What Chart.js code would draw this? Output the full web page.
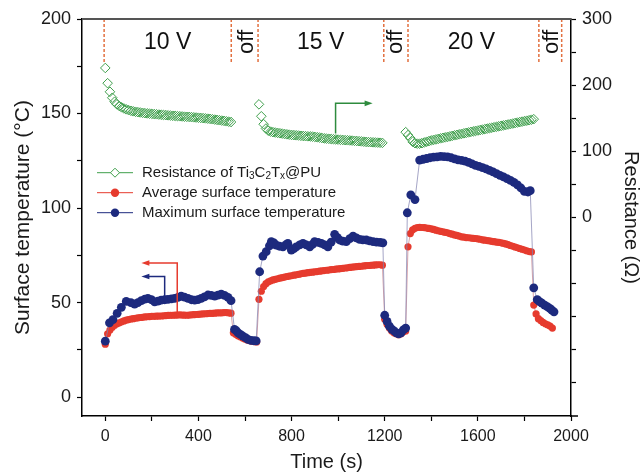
<!DOCTYPE html>
<html>
<head>
<meta charset="utf-8">
<script src="https://cdn.jsdelivr.net/npm/chart.js@4.4.0/dist/chart.umd.min.js"></script>
<style>
  html, body { margin: 0; padding: 0; background: #fff; }
  #wrap { width: 643px; height: 476px; }
</style>
</head>
<body>
<div id="wrap"><canvas id="chart" width="643" height="476"></canvas></div>
<script>
// resistance of Ti3C2Tx@PU (right axis, ohm)
const resTime = [
  0,10,20,30,40,50,60,70,80,90,100,110,120,130,140,150,160,170,180,190,200,210,220,230,240,250,
  260,270,280,290,300,310,320,330,340,350,360,370,380,390,400,410,420,430,440,450,460,470,480,490,
  500,510,520,530,540,
  660,670,680,690,700,710,720,730,740,750,760,770,780,790,800,810,820,830,840,850,860,870,880,890,
  900,910,920,930,940,950,960,970,980,990,1000,1010,1020,1030,1040,1050,1060,1070,1080,1090,1100,
  1110,1120,1130,1140,1150,1160,1170,1180,1190,
  1290,1300,1310,1320,1330,1340,1350,1360,1370,1380,1390,1400,1410,1420,1430,1440,1450,1460,1470,
  1480,1490,1500,1510,1520,1530,1540,1550,1560,1570,1580,1590,1600,1610,1620,1630,1640,1650,1660,
  1670,1680,1690,1700,1710,1720,1730,1740,1750,1760,1770,1780,1790,1800,1810,1820,1830,1840
];
const resValues = [
  226,203,190,181,175,171,168.5,166.5,164.8,163.5,162.3,161.3,160.5,159.8,159.2,158.7,158.2,157.7,
  157.3,156.9,156.6,156.3,156,155.6,155.3,155,154.7,154.4,154.1,153.8,153.5,153.2,153,152.7,152.4,
  152.2,152,151.7,151.4,151.1,150.8,150.5,150.2,149.8,149.4,149,148.5,148,147.5,147,146.5,146,145.4,
  144.8,144.3,
  171,153,141,134.5,131.2,129.8,129,128.4,127.9,127.3,126.8,126.2,125.7,125.2,124.8,124.5,124.2,
  123.9,123.5,123.2,122.9,122.7,122.5,122.2,121.8,121.3,120.8,120.2,119.6,119.2,118.9,118.6,118.3,
  118,117.7,117.4,117.2,116.9,116.7,116.5,116.2,115.9,115.6,115.3,115,114.6,114.2,114,113.8,113.6,
  113.4,113.2,113,112.8,
  129,124.5,120,114.5,112.3,111.6,111.6,112.3,113.4,114.5,115.5,116.5,117.3,118,118.8,119.6,120.4,
  121.1,121.8,122.6,123.4,124.2,124.9,125.7,126.4,127.2,127.9,128.6,129.4,130.1,130.8,131.5,132.2,
  132.9,133.6,134.3,135,135.7,136.4,137.1,137.8,138.5,139.2,139.9,140.6,141.3,142,142.8,143.5,
  144.2,144.9,145.6,146.3,147,147.8,148.6
];

// average surface temperature (left axis, degC)
const avgTime = [
  0,10,20,30,40,50,60,70,80,90,100,110,120,130,140,150,160,170,180,190,200,210,220,230,240,250,
  260,270,280,290,300,310,320,330,340,350,360,370,380,390,400,410,420,430,440,450,460,470,480,490,
  500,510,520,530,540,550,560,570,580,590,600,610,620,630,640,650,
  660,670,680,690,700,710,720,730,740,750,760,770,780,790,800,810,820,830,840,850,860,870,880,890,
  900,910,920,930,940,950,960,970,980,990,1000,1010,1020,1030,1040,1050,1060,1070,1080,1090,1100,
  1110,1120,1130,1140,1150,1160,1170,1180,1190,1200,1210,1220,1230,1240,1250,1260,1270,1280,1290,
  1300,1310,1320,1330,1340,1350,1360,1370,1380,1390,1400,1410,1420,1430,1440,1450,1460,1470,
  1480,1490,1500,1510,1520,1530,1540,1550,1560,1570,1580,1590,1600,1610,1620,1630,1640,1650,1660,
  1670,1680,1690,1700,1710,1720,1730,1740,1750,1760,1770,1780,1790,1800,1810,1820,1830,
  1840,1850,1860,1870,1880,1890,1900,1910,1920
];
const avgValues = [
  28,33.5,35.5,37,38,38.8,39.3,39.8,40.3,40.7,41,41.3,41.5,41.7,41.9,42.1,42.2,42.4,42.5,42.6,42.7,
  42.7,42.8,42.9,42.9,43,43.1,43.2,43.3,43.3,43.4,43.4,43.5,43.4,43.4,43.3,43.4,43.5,43.6,43.7,43.8,
  43.9,44,44.1,44.2,44.3,44.3,44.4,44.5,44.6,44.6,44.7,44.7,44.6,44.4,
  34,33.2,32.5,31.8,31.2,30.6,30.2,29.8,29.5,29.3,29.2,
  51.7,56,58.5,60,61,61.5,62,62.3,62.6,62.9,63.2,63.5,63.8,64,64.2,64.5,64.7,64.9,65.2,65.4,65.6,
  65.8,66,66.1,66.3,66.4,66.6,66.8,66.9,67.1,67.2,67.4,67.5,67.7,67.8,68,68.1,68.3,68.4,68.6,68.7,
  68.9,69,69.1,69.2,69.4,69.5,69.6,69.7,69.8,69.9,70,70,69.8,
  41.2,38.5,36.5,35,34,33.5,33,33.5,34.5,35,
  79.5,86.5,88.5,89.3,89.7,89.8,89.7,89.6,89.4,89.2,89,88.7,88.3,88,87.7,87.4,87.1,86.9,86.5,86.2,
  85.8,85.5,85.1,84.8,84.6,84.4,84.3,84.1,84,83.9,83.7,83.5,83.2,83,82.8,82.6,82.4,82.2,82,81.8,
  81.6,81.3,81,80.6,80.2,79.8,79.4,79,78.6,78.2,77.8,77.4,77,76.8,
  48.7,44,41.5,40.5,39.5,38.8,38.2,37.6,36.5
];

// maximum surface temperature (left axis, degC)
const maxTime = [
  0,18,33,51,69,90,110,126,140,155,170,183,198,212,226,240,255,269,284,298,312,326,340,355,370,384,
  398,412,426,441,455,470,484,498,512,527,540,
  555,563,570,580,591,602,613,625,638,648,
  663,677,691,705,713,725,734,748,763,775,784,799,810,820,835,849,863,878,890,899,914,928,942,956,
  970,985,996,1006,1020,1035,1050,1064,1078,1092,1106,1121,1135,1150,1165,1180,1192,
  1200,1210,1220,1230,1240,1250,1260,1270,1280,1290,
  1297,1312,1330,1350,1365,1380,1395,1410,1425,1440,1455,1470,1485,1500,1515,1530,1545,1560,1575,
  1590,1605,1620,1635,1650,1665,1680,1695,1710,1725,1740,1755,1770,1785,1800,1815,1825,
  1840,1855,1865,1875,1887,1898,1909,1918,1927
];
const maxValues = [
  29.6,39.3,41,44.3,47.5,50.6,50,49.2,50,51,51.8,52.2,51.5,50.4,50.8,51.3,51.5,51.7,52,52.2,52.8,
  53.4,52.9,52.2,51.5,51.3,51.6,52.2,53,54,53.8,53.4,53.9,54.5,53.8,52.8,51,
  35.8,35,34,33.2,32.3,31.4,30.5,30,29.8,29.7,
  66.3,74.6,76.9,80,82.2,81.5,80.4,79.8,79.5,80.5,81.3,77.8,78.5,79.5,80.5,81.3,80.5,79.5,80.8,82.2,
  81.8,81.3,80.5,79.5,82,86.1,84.5,83.1,82.5,82.2,83.8,85.2,84.2,83.4,83.2,83.1,82.6,82.2,82,81.8,
  81.6,
  43.3,40,37.5,36,35,34,33.5,34,35.5,36.5,
  97.5,107,104.5,125.4,125.8,126.2,126.6,126.9,127.1,127.3,127.2,127.1,126.6,126,125.5,125.2,124.8,
  124.2,123.4,122.6,122,121.4,120.7,119.9,119.1,118.2,117.3,116.5,115.6,114.6,113.6,112.3,110.6,
  108.8,108.5,109.2,
  57.8,51.5,50.5,49.7,48.7,47.8,46.9,46,45.1
];

// axes
const xTicks = [0,200,400,600,800,1000,1200,1400,1600,1800,2000];
const xLabels = [0,400,800,1200,1600,2000];
const leftTicks = [0,25,50,75,100,125,150,175,200];
const leftLabels = [0,50,100,150,200];
const rightTicks = [-250,-200,-150,-100,-50,0,50,100,150,200,250,300];
const rightLabels = [0,100,200,300];

// voltage phases
const phaseLines = [-5,541,656,1196,1300,1862,1960];
const phaseNames = ['10 V','off','15 V','off','20 V','off'];
const phaseCenters = [268,606,925,1246,1572,1913];

const GREEN = '#3f9f4c', RED = '#e63b2e', NAVY = '#1d2a7e';
const FONT = '"Liberation Sans", Arial, Helvetica, sans-serif';

const pts = (xs, ys) => xs.map((x, i) => ({ x: x, y: ys[i] }));

function arrowHead(ctx, x, y, dir, color) {
  ctx.fillStyle = color;
  ctx.beginPath();
  ctx.moveTo(x, y);
  ctx.lineTo(x - dir * 8, y - 2.8);
  ctx.lineTo(x - dir * 8, y + 2.8);
  ctx.closePath();
  ctx.fill();
}

const decor = {
  id: 'decor',
  beforeDatasetsDraw(chart) {
    const { ctx, chartArea: a, scales } = chart;
    ctx.save();
    ctx.strokeStyle = '#e2703f';
    ctx.lineWidth = 1.5;
    ctx.setLineDash([3, 2]);
    phaseLines.forEach(t => {
      const x = scales.x.getPixelForValue(t);
      ctx.beginPath();
      ctx.moveTo(x, a.top);
      ctx.lineTo(x, scales.y.getPixelForValue(177));
      ctx.stroke();
    });
    ctx.setLineDash([]);
    ctx.fillStyle = '#111';
    ctx.textAlign = 'center';
    ctx.textBaseline = 'middle';
    phaseNames.forEach((name, i) => {
      const x = scales.x.getPixelForValue(phaseCenters[i]);
      const y = a.top + 23;
      if (name === 'off') {
        ctx.save();
        ctx.font = '22px ' + FONT;
        ctx.translate(x, y);
        ctx.rotate(-Math.PI / 2);
        ctx.fillText(name, 0, 1);
        ctx.restore();
      } else {
        ctx.font = '23px ' + FONT;
        ctx.fillText(name, x, y + 1);
      }
    });
    ctx.restore();
  },
  afterDatasetsDraw(chart) {
    const { ctx, chartArea: a, scales } = chart;
    const X = v => scales.x.getPixelForValue(v);
    const Y = v => scales.y.getPixelForValue(v);
    const Y1 = v => scales.y1.getPixelForValue(v);
    ctx.save();
    // frame top line
    ctx.strokeStyle = '#555';
    ctx.lineWidth = 2;
    ctx.beginPath();
    ctx.moveTo(a.left, a.top);
    ctx.lineTo(a.right, a.top);
    ctx.stroke();
    // bottom axis runs a little past the right axis
    ctx.strokeStyle = '#000';
    ctx.lineWidth = 1.5;
    ctx.beginPath();
    ctx.moveTo(a.right, a.bottom);
    ctx.lineTo(a.right + 7, a.bottom);
    ctx.stroke();

    // arrows pointing to the axis of each series
    ctx.lineWidth = 1.5;
    ctx.strokeStyle = RED;
    ctx.beginPath();
    ctx.moveTo(X(309), Y(44.4));
    ctx.lineTo(X(309), Y(70.9));
    ctx.lineTo(X(155) + 6, Y(70.9));
    ctx.stroke();
    arrowHead(ctx, X(155), Y(70.9), -1, RED);

    ctx.strokeStyle = NAVY;
    ctx.beginPath();
    ctx.moveTo(X(255), Y(52.9));
    ctx.lineTo(X(255), Y(63.8));
    ctx.lineTo(X(155) + 6, Y(63.8));
    ctx.stroke();
    arrowHead(ctx, X(155), Y(63.8), -1, NAVY);

    ctx.strokeStyle = '#2e8b3e';
    ctx.beginPath();
    ctx.moveTo(X(989), Y1(127));
    ctx.lineTo(X(989), Y1(172.5));
    ctx.lineTo(X(1148) - 6, Y1(172.5));
    ctx.stroke();
    arrowHead(ctx, X(1148), Y1(172.5), 1, '#2e8b3e');

    // legend
    const rows = [
      { y: 172.7, color: GREEN, kind: 'diamond',
        parts: [['Resistance of Ti', 0], ['3', 1], ['C', 0], ['2', 1], ['T', 0], ['x', 1], ['@PU', 0]] },
      { y: 192.7, color: RED, kind: 'dot', parts: [['Average surface temperature', 0]] },
      { y: 212.7, color: NAVY, kind: 'dot', parts: [['Maximum surface temperature', 0]] }
    ];
    rows.forEach(r => {
      ctx.strokeStyle = r.color;
      ctx.lineWidth = 1;
      ctx.beginPath();
      ctx.moveTo(97, r.y);
      ctx.lineTo(133, r.y);
      ctx.stroke();
      if (r.kind === 'diamond') {
        ctx.fillStyle = '#fff';
        ctx.beginPath();
        ctx.moveTo(115, r.y - 4.5);
        ctx.lineTo(119.5, r.y);
        ctx.lineTo(115, r.y + 4.5);
        ctx.lineTo(110.5, r.y);
        ctx.closePath();
        ctx.fill();
        ctx.stroke();
      } else {
        ctx.fillStyle = r.color;
        ctx.beginPath();
        ctx.arc(115, r.y, 4.2, 0, Math.PI * 2);
        ctx.fill();
      }
      let x = 142;
      ctx.fillStyle = '#1a1a1a';
      ctx.textAlign = 'left';
      ctx.textBaseline = 'middle';
      r.parts.forEach(([txt, sub]) => {
        ctx.font = (sub ? '10px ' : '15px ') + FONT;
        ctx.fillText(txt, x, r.y + (sub ? 4 : 0));
        x += ctx.measureText(txt).width;
      });
    });
    ctx.restore();
  }
};

const tickFont = { family: FONT, size: 16 };
const sideFont = { family: FONT, size: 18 };

new Chart(document.getElementById('chart'), {
  type: 'scatter',
  data: {
    datasets: [
      {
        label: 'Resistance of Ti3C2Tx@PU',
        data: pts(resTime, resValues),
        yAxisID: 'y1',
        showLine: false,
        pointStyle: 'rectRot',
        pointRadius: 4.8,
        pointBorderWidth: 1,
        pointBorderColor: GREEN,
        pointBackgroundColor: 'rgba(255,255,255,0)',
        order: 0
      },
      {
        label: 'Average surface temperature',
        data: pts(avgTime, avgValues),
        yAxisID: 'y',
        showLine: true,
        borderColor: 'rgba(200,130,140,0.9)',
        borderWidth: 0.8,
        pointRadius: 3.6,
        pointBorderWidth: 0,
        pointBackgroundColor: RED,
        pointBorderColor: RED,
        order: 2
      },
      {
        label: 'Maximum surface temperature',
        data: pts(maxTime, maxValues),
        yAxisID: 'y',
        showLine: true,
        borderColor: 'rgba(130,130,175,0.9)',
        borderWidth: 0.8,
        pointRadius: 4.4,
        pointBorderWidth: 0,
        pointBackgroundColor: NAVY,
        pointBorderColor: NAVY,
        order: 1
      }
    ]
  },
  options: {
    responsive: false,
    animation: false,
    devicePixelRatio: 1,
    layout: { padding: { top: 19, left: 0, right: 0, bottom: 0 } },
    plugins: { legend: { display: false }, tooltip: { enabled: false } },
    scales: {
      x: {
        type: 'linear',
        min: -100,
        max: 2000,
        afterBuildTicks: s => { s.ticks = xTicks.map(v => ({ value: v })); },
        afterFit: s => { s.height = 60; },
        ticks: {
          autoSkip: false, maxRotation: 0, padding: 6, font: tickFont, color: '#1a1a1a',
          callback: v => xLabels.includes(v) ? String(v) : ''
        },
        grid: { drawOnChartArea: false, tickLength: 5, tickColor: '#000', tickWidth: 1.2 },
        border: { color: '#000', width: 1.5 },
        title: { display: true, text: 'Time (s)', color: '#1a1a1a',
                 font: { family: FONT, size: 20 }, padding: { top: 0, bottom: 2 } }
      },
      y: {
        position: 'left',
        min: -10,
        max: 200,
        afterBuildTicks: s => { s.ticks = leftTicks.map(v => ({ value: v })); },
        afterFit: s => { s.width = 82; },
        ticks: {
          autoSkip: false, padding: 6, font: sideFont, color: '#1a1a1a',
          callback: v => leftLabels.includes(v) ? String(v) : ''
        },
        grid: { drawOnChartArea: false, tickLength: 5, tickColor: '#000', tickWidth: 1.2 },
        border: { color: '#000', width: 1.5 },
        title: { display: true, text: 'Surface temperature (°C)', color: '#1a1a1a',
                 font: { family: FONT, size: 21 }, padding: { top: 11, bottom: 0 } }
      },
      y1: {
        position: 'right',
        min: -300,
        max: 300,
        afterBuildTicks: s => { s.ticks = rightTicks.map(v => ({ value: v })); },
        afterFit: s => { s.width = 72; },
        ticks: {
          autoSkip: false, padding: 6, font: sideFont, color: '#1a1a1a',
          callback: v => rightLabels.includes(v) ? String(v) : ''
        },
        grid: { drawOnChartArea: false, tickLength: 5, tickColor: '#000', tickWidth: 1.2 },
        border: { color: '#000', width: 1.5 },
        title: { display: true, text: 'Resistance (Ω)', color: '#1a1a1a',
                 font: { family: FONT, size: 20 }, padding: { top: 0, bottom: 0 } }
      }
    }
  },
  plugins: [decor]
});
</script>
</body>
</html>
